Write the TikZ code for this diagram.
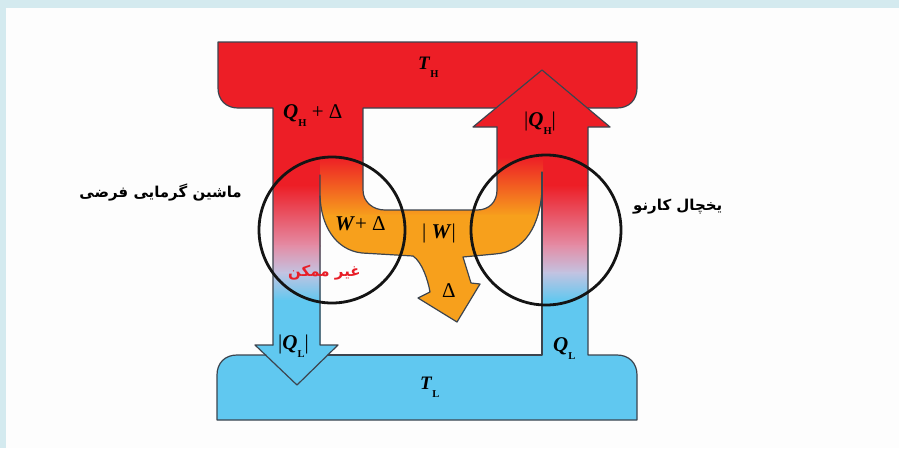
\documentclass[tikz,border=0pt]{standalone}
\usepackage{fontspec}
\setmainfont{Liberation Serif}
\newfontfamily\fa[Script=Arabic]{DejaVu Sans}
\TeXXeTstate=1
\definecolor{hot}{RGB}{237,30,38}
\definecolor{org}{RGB}{247,160,28}
\definecolor{cold}{RGB}{96,200,240}
\definecolor{pnk}{RGB}{228,140,165}
\definecolor{lav}{RGB}{195,195,225}
\definecolor{edgec}{RGB}{60,68,78}
\definecolor{ringc}{RGB}{20,20,20}
\definecolor{bgband}{RGB}{212,234,239}
\definecolor{paper}{RGB}{253,253,253}
\definecolor{fared}{RGB}{232,30,40}
\newcommand{\hcramp}[2]{%
  \fill[hot] (#1,60) rectangle (#2,186);
  \shade[top color=hot,bottom color=pnk] (#1,185) rectangle (#2,246);
  \shade[top color=pnk,bottom color=lav] (#1,245) rectangle (#2,273);
  \shade[top color=lav,bottom color=cold] (#1,272) rectangle (#2,301);
  \fill[cold] (#1,300) rectangle (#2,400);}
\newcommand{\subs}[1]{\raisebox{-8pt}{\fontsize{10.5}{10.5}\selectfont\textbf{#1}}}
\newcommand{\bi}[1]{\textbf{\textit{#1}}}
\begin{document}
\begin{tikzpicture}[x=1pt,y=-1pt,
  outl/.style={draw=edgec,line width=1.2pt,line join=round,line cap=round},
  ring/.style={draw=ringc,line width=2.8pt},
  lab/.style={inner sep=0pt,font=\fontsize{21}{21}\selectfont},
  tlab/.style={inner sep=0pt,font=\fontsize{19}{19}\selectfont},
  fatext/.style={inner sep=0pt,font=\fa\bfseries\fontsize{15}{15}\selectfont}]
\useasboundingbox (0,0) rectangle (899,448);
\fill[bgband] (0,0) rectangle (899,448);
\fill[paper] (6,8) rectangle (899,448);
% top bar (hot reservoir)
\fill[hot] (218,42) -- (637,42) -- (637,88) .. controls (637,100) and (629,108) .. (617,108) -- (238,108) .. controls (226,108) and (218,100) .. (218,88) -- cycle;
% bottom bar (cold reservoir)
\fill[cold] (237,355) -- (617,355) .. controls (629,355) and (637,363) .. (637,375) -- (637,420) -- (217,420) -- (217,375) .. controls (217,363) and (225,355) .. (237,355) -- cycle;
% left column top
\fill[hot] (273,100) rectangle (363,153);
% left down arrow
\begin{scope}
\clip (273,150) -- (320.5,150) -- (320.5,345) -- (338,345) -- (297,385) -- (255,345) -- (273,345) -- cycle;
\hcramp{250}{345}
\end{scope}
% right rising bar
\begin{scope}
\clip (541,120) rectangle (588,358);
\hcramp{540}{590}
\end{scope}
% work flow (orange)
\begin{scope}
\clip (320,150) -- (363,150) -- (363,190) .. controls (363,202) and (373,210) .. (385,210) -- (477,210) .. controls (489,210) and (497,202) .. (497,190) -- (497,125) -- (543,125) -- (543,190) .. controls (540,225) and (525,252) .. (495,254) -- (463,257) -- (471,283) -- (480,284) -- (457,322) -- (418,298) -- (430,292) .. controls (428,280) and (422,262) .. (413,256) -- (362,253) .. controls (335,250) and (321,225) .. (320,196) -- cycle;
\fill[hot] (300,100) rectangle (560,158);
\shade[top color=hot,bottom color=org] (300,157) rectangle (560,216);
\fill[org] (300,215) rectangle (560,330);
\end{scope}
% right arrowhead
\fill[hot] (473,127) -- (542,70) -- (610,127) -- cycle;
% outlines
\draw[outl] (273,345) -- (273,108) -- (238,108) .. controls (226,108) and (218,100) .. (218,88) -- (218,42) -- (637,42) -- (637,88) .. controls (637,100) and (629,108) .. (617,108) -- (588,108);
\draw[outl] (497,127) -- (473,127) -- (542,70) -- (610,127) -- (588,127) -- (588,355) -- (617,355) .. controls (629,355) and (637,363) .. (637,375) -- (637,420) -- (217,420) -- (217,375) .. controls (217,363) and (225,355) .. (237,355) -- (266,355);
\draw[outl] (328,355) -- (542,355) -- (542,172);
\draw[outl] (273,345) -- (255,345) -- (297,385) -- (338,345) -- (320,345) -- (320,175);
\draw[outl] (496,108) -- (363,108) -- (363,190) .. controls (363,202) and (373,210) .. (385,210) -- (477,210) .. controls (489,210) and (497,202) .. (497,190) -- (497,127);
\draw[outl] (320,196) .. controls (321,225) and (335,250) .. (362,253) -- (413,256) .. controls (422,262) and (428,280) .. (430,292) -- (418,298) -- (457,322) -- (480,284) -- (471,283) -- (463,257) -- (495,254) .. controls (525,252) and (540,225) .. (542,190);
% circles
\draw[ring] (332,230) circle[radius=73pt];
\draw[ring] (546,230) circle[radius=75pt];
% labels
\node[tlab,anchor=base west] (th) at (418,69) {\bi{T}\subs{H}};
\node[lab,anchor=base west] (qhd) at (283,118) {\bi{Q}\subs{H} + Δ};
\node[lab,anchor=base west] (qh) at (524,126) {|\bi{Q}\subs{H}|};
\node[lab,anchor=base west] (wd) at (335,230) {\bi{W}+ Δ};
\node[lab,anchor=base west] (w) at (422,238) {| \bi{W}|};
\node[lab,anchor=base west] (d) at (442,297) {Δ};
\node[lab,anchor=base west] (ql) at (278,349) {|\bi{Q}\subs{L}|};
\node[lab,anchor=base west] (qlr) at (553,351) {\bi{Q}\subs{L}};
\node[tlab,anchor=base west] (tl) at (420,389) {\bi{T}\subs{L}};
\node[fatext,anchor=base east] (engine) at (242,197) {\beginR ماشین گرمایی فرضی\endR};
\node[fatext,anchor=base west] (fridge) at (633,210) {\beginR یخچال کارنو\endR};
\node[fatext,anchor=base west,text=fared] (imp) at (288,276) {\beginR غیر ممکن\endR};
\end{tikzpicture}
\end{document}
